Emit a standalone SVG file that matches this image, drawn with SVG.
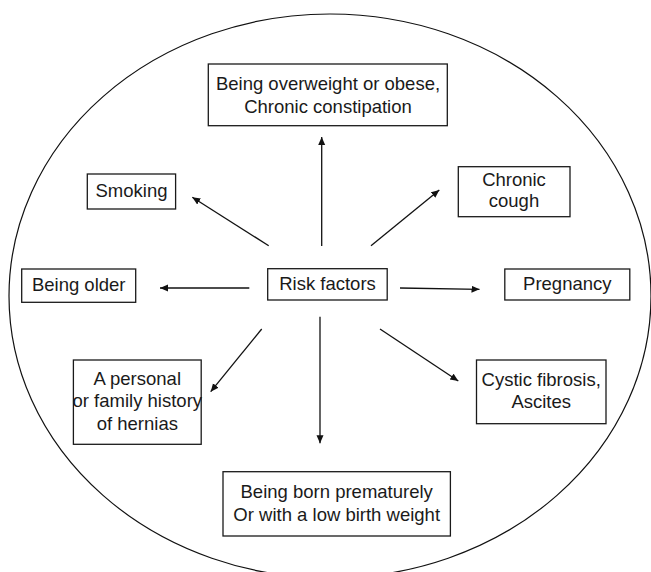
<svg xmlns="http://www.w3.org/2000/svg" width="651" height="572" viewBox="0 0 651 572">
<style>
  .box { fill: #fff; stroke: #1a1a1a; stroke-width: 1.3; }
  .lbl { font-family: "Liberation Sans", Arial, sans-serif; font-size: 18.5px; fill: #1a1a1a; text-anchor: middle; }
  .con { stroke: #111; stroke-width: 1.3; fill: none; marker-end: url(#arr); }
  .outline { fill: none; stroke: #111; stroke-width: 1.2; }
</style>
<defs>
  <marker id="arr" markerUnits="userSpaceOnUse" markerWidth="10" markerHeight="8" refX="8" refY="3.5" orient="auto">
    <path d="M0,0 L8,3.5 L0,7 z" fill="#111"/>
  </marker>
</defs>
<rect width="651" height="572" fill="#fff"/>
<ellipse class="outline" cx="330" cy="296" rx="321" ry="282"/>

<g id="connectors">
  <line class="con" x1="321.7" y1="246" x2="321.7" y2="137"/>
  <line class="con" x1="268.7" y1="245.7" x2="192.3" y2="197.3"/>
  <line class="con" x1="371" y1="245.7" x2="439.3" y2="190"/>
  <line class="con" x1="249.3" y1="288" x2="160" y2="288"/>
  <line class="con" x1="400" y1="288" x2="479.5" y2="289.3"/>
  <line class="con" x1="261.7" y1="329" x2="210.7" y2="391.7"/>
  <line class="con" x1="320" y1="316.7" x2="320" y2="443.3"/>
  <line class="con" x1="380" y1="329" x2="458.3" y2="381"/>
</g>

<g id="risk-factors">
  <rect class="box" x="267.7" y="268.7" width="119.5" height="31.3"/>
  <text class="lbl" x="327.5" y="290">Risk factors</text>
</g>

<g id="overweight">
  <rect class="box" x="208.3" y="64" width="239" height="61.7"/>
  <text class="lbl" x="328" y="90">Being overweight or obese,</text>
  <text class="lbl" x="328" y="112.5">Chronic constipation</text>
</g>

<g id="smoking">
  <rect class="box" x="87.3" y="174" width="88.3" height="35"/>
  <text class="lbl" x="131.5" y="197">Smoking</text>
</g>

<g id="chronic-cough">
  <rect class="box" x="458.3" y="166.7" width="111.7" height="50"/>
  <text class="lbl" x="514" y="185.5">Chronic</text>
  <text class="lbl" x="514" y="207">cough</text>
</g>

<g id="being-older">
  <rect class="box" x="21.7" y="269" width="114" height="33.3"/>
  <text class="lbl" x="78.7" y="290.5">Being older</text>
</g>

<g id="pregnancy">
  <rect class="box" x="504.8" y="269" width="125" height="31"/>
  <text class="lbl" x="567.3" y="290">Pregnancy</text>
</g>

<g id="family-history">
  <rect class="box" x="73.4" y="360" width="127.8" height="84.3"/>
  <text class="lbl" x="137.3" y="385">A personal</text>
  <text class="lbl" x="137.3" y="407">or family history</text>
  <text class="lbl" x="137.3" y="429.5">of hernias</text>
</g>

<g id="cystic-fibrosis">
  <rect class="box" x="476.5" y="360" width="129.5" height="63.7"/>
  <text class="lbl" x="541.2" y="385.7">Cystic fibrosis,</text>
  <text class="lbl" x="541.2" y="408.3">Ascites</text>
</g>

<g id="premature">
  <rect class="box" x="223" y="471.7" width="227.4" height="64.3"/>
  <text class="lbl" x="336.7" y="498.3">Being born prematurely</text>
  <text class="lbl" x="336.7" y="520.5">Or with a low birth weight</text>
</g>
</svg>
